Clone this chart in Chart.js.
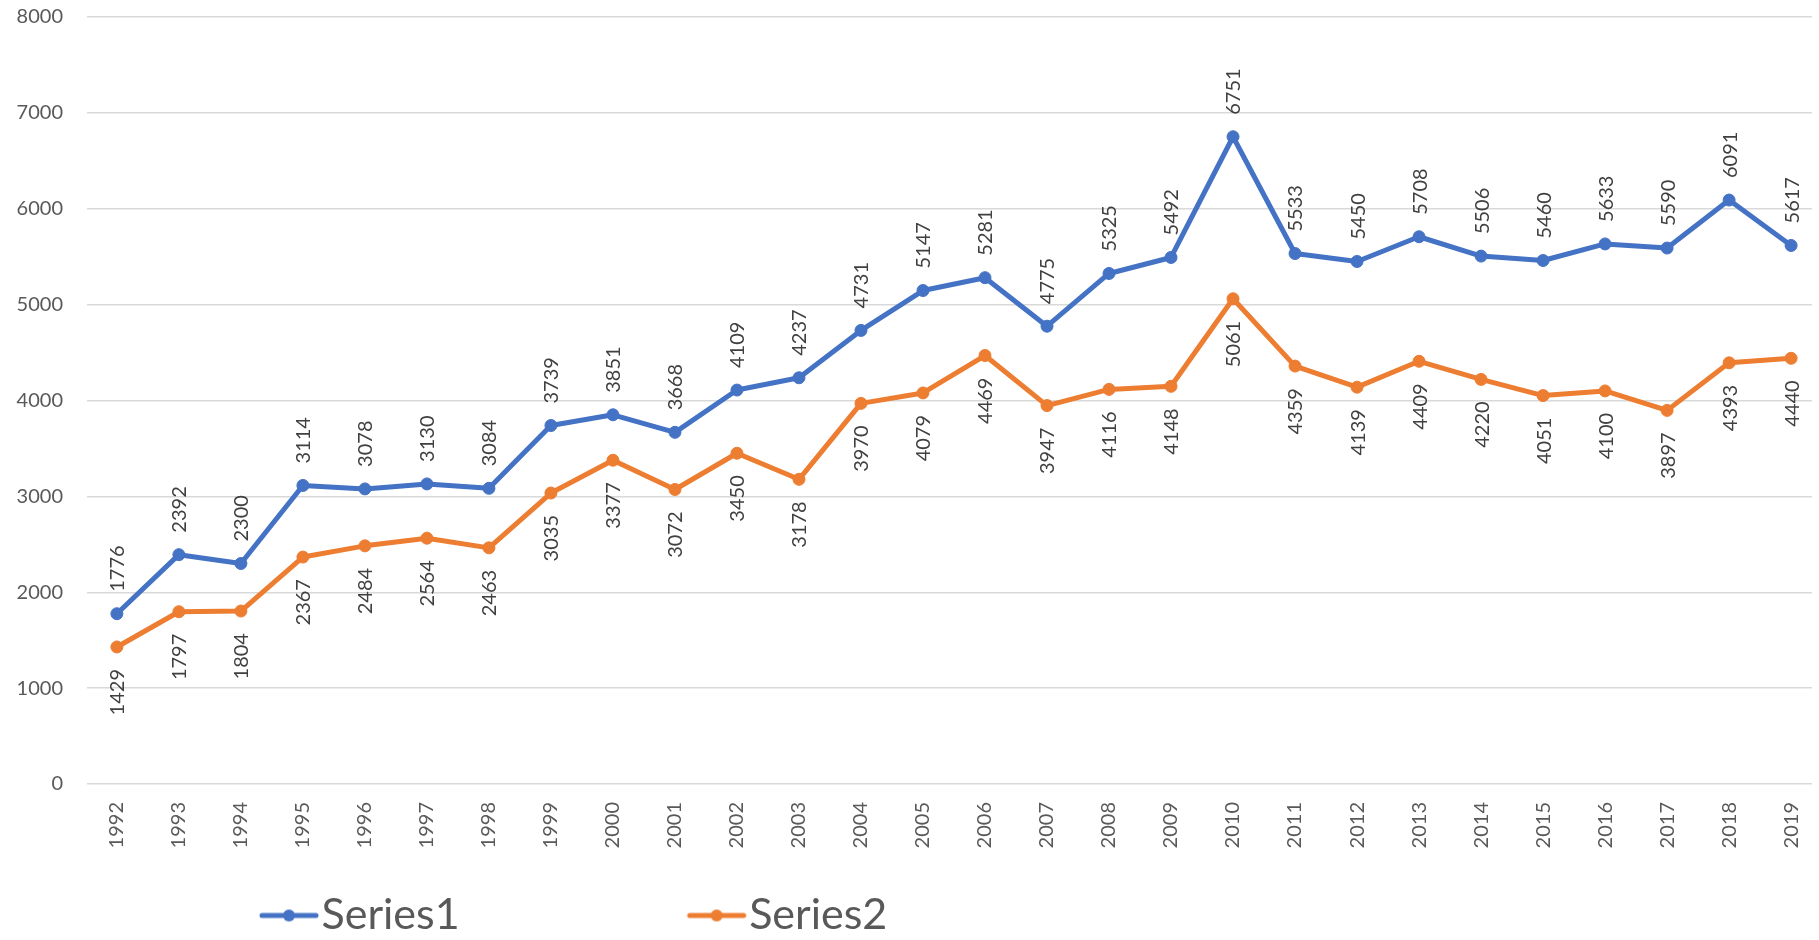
<!DOCTYPE html>
<html>
<head>
<meta charset="utf-8">
<title>Series1 / Series2</title>
<script src="https://cdn.jsdelivr.net/npm/chart.js@4.4.0/dist/chart.umd.min.js"></script>
<style>
  html, body { margin: 0; padding: 0; background: #fff; }
  #wrap { width: 1819px; height: 940px; }
</style>
</head>
<body>
<div id="wrap"><canvas id="chart" width="1819" height="940"></canvas></div>
<script>
// ---- data ----
const years = [1992, 1993, 1994, 1995, 1996, 1997, 1998, 1999, 2000, 2001,
               2002, 2003, 2004, 2005, 2006, 2007, 2008, 2009, 2010, 2011,
               2012, 2013, 2014, 2015, 2016, 2017, 2018, 2019];
const series1 = [1776, 2392, 2300, 3114, 3078, 3130, 3084, 3739, 3851, 3668,
                 4109, 4237, 4731, 5147, 5281, 4775, 5325, 5492, 6751, 5533,
                 5450, 5708, 5506, 5460, 5633, 5590, 6091, 5617];
const series2 = [1429, 1797, 1804, 2367, 2484, 2564, 2463, 3035, 3377, 3072,
                 3450, 3178, 3970, 4079, 4469, 3947, 4116, 4148, 5061, 4359,
                 4139, 4409, 4220, 4051, 4100, 3897, 4393, 4440];
const seriesNames = ['Series1', 'Series2'];
const yMin = 0, yMax = 8000, yStep = 1000;

const BLUE = '#4472C4';
const ORANGE = '#ED7D31';
const FONT = 'Lato, "Open Sans", sans-serif';

// legend marker (line with a dot), drawn into a small canvas
const LEG_FONT = 43, LEG_PAD = 12, LEG_BOX = 256, LEG_SHIFT = 32;
function legendMarker(color) {
    const c = document.createElement('canvas');
    c.width = LEG_BOX + 40;
    c.height = 16;
    const g = c.getContext('2d');
    const mid = c.width / 2;
    const x1 = mid + LEG_BOX / 2 - 38, x2 = mid + LEG_BOX / 2 + 16;
    g.strokeStyle = color;
    g.lineWidth = 5;
    g.lineCap = 'round';
    g.beginPath(); g.moveTo(x1, 8); g.lineTo(x2, 8); g.stroke();
    g.fillStyle = color;
    g.beginPath(); g.arc((x1 + x2) / 2, 8, 6, 0, Math.PI * 2); g.fill();
    return c;
}
const markers = [legendMarker(BLUE), legendMarker(ORANGE)];

// legend sits a bit right of the canvas edge in the original
const legendShift = {
    id: 'legendShift',
    afterLayout(chart) {
        chart.legend.left += LEG_SHIFT;
        chart.legend.right += LEG_SHIFT;
    }
};

// rotated value labels: above for Series1, below for Series2
const valueLabels = {
    id: 'valueLabels',
    afterDatasetsDraw(chart) {
        const ctx = chart.ctx;
        ctx.save();
        ctx.font = '20px ' + FONT;
        ctx.fillStyle = '#404040';
        ctx.textBaseline = 'middle';
        chart.data.datasets.forEach((ds, di) => {
            const above = di === 0;
            chart.getDatasetMeta(di).data.forEach((pt, i) => {
                ctx.save();
                ctx.translate(pt.x + 1, above ? pt.y - 22 : pt.y + 22);
                ctx.rotate(-Math.PI / 2);
                ctx.textAlign = above ? 'left' : 'right';
                ctx.fillText(String(ds.data[i].y), 0, 0);
                ctx.restore();
            });
        });
        ctx.restore();
    }
};

function lineSet(label, values, color) {
    return {
        label: label,
        data: values.map((v, i) => ({ x: i, y: v })),
        borderColor: color,
        backgroundColor: color,
        borderWidth: 5,
        borderJoinStyle: 'round',
        pointRadius: 6,
        pointBorderWidth: 1,
        pointBackgroundColor: color,
        pointBorderColor: color,
        tension: 0,
        fill: false
    };
}

const ctx = document.getElementById('chart').getContext('2d');
new Chart(ctx, {
    type: 'line',
    data: {
        datasets: [
            lineSet(seriesNames[0], series1, BLUE),
            lineSet(seriesNames[1], series2, ORANGE)
        ]
    },
    plugins: [valueLabels, legendShift],
    options: {
        responsive: false,
        animation: false,
        events: [],
        layout: { padding: { left: 0, top: 17, right: 0, bottom: -7 } },
        plugins: {
            tooltip: { enabled: false },
            legend: {
                position: 'bottom',
                align: 'start',
                labels: {
                    usePointStyle: true,
                    pointStyleWidth: LEG_BOX,
                    padding: LEG_PAD,
                    color: '#595959',
                    font: { family: FONT, size: LEG_FONT },
                    generateLabels: chart =>
                        Chart.defaults.plugins.legend.labels.generateLabels(chart)
                            .map((item, i) => Object.assign(item, { pointStyle: markers[i] }))
                }
            }
        },
        scales: {
            x: {
                type: 'linear',
                min: -0.482,
                max: 27.337,
                afterBuildTicks: s => { s.ticks = years.map((y, i) => ({ value: i })); },
                afterFit: s => { s.height = 98; },
                grid: { display: false, drawTicks: true, tickLength: 18, tickColor: 'rgba(0,0,0,0)' },
                border: { display: false },
                ticks: {
                    autoSkip: false,
                    minRotation: 90,
                    maxRotation: 90,
                    padding: 0,
                    color: '#595959',
                    font: { family: FONT, size: 20 },
                    callback: v => years[v]
                }
            },
            y: {
                min: yMin,
                max: yMax,
                afterFit: s => { s.width = 87; },
                grid: { color: '#d9d9d9', lineWidth: 1.4, drawTicks: true, tickLength: 24, tickColor: 'rgba(0,0,0,0)' },
                border: { display: false },
                ticks: {
                    stepSize: yStep,
                    padding: 0,
                    color: '#595959',
                    font: { family: FONT, size: 20 },
                    callback: v => String(v)
                }
            }
        }
    }
});
</script>
</body>
</html>
